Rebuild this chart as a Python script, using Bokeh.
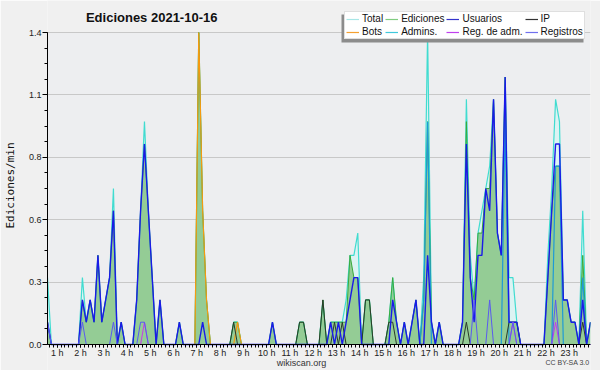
import math
from bokeh.plotting import figure
from bokeh.models import (Range1d, FixedTicker, Legend, LegendItem, Label,
                          CustomJSTickFormatter, BoxAnnotation)
from bokeh.embed import file_html
from bokeh.resources import INLINE

title_text = "Ediciones  2021-10-16"
y_label = "Ediciones/min"
hour_ticks = list(range(1, 24))
y_ticks = [0.0, 0.28, 0.56, 0.84, 1.12, 1.4]
y_max = 1.4

# 10-minute bins, first bin 00:30 (bin index 3), last bin 23:50
first_bin = 3
times = [(first_bin + k + 0.5) / 6 for k in range(141)]

total = [0.3, 0, 0,
         0, 0, 0, 0, 0, 0,
         0.3, 0.1, 0.2, 0.1, 0.4, 0.1,
         0.2, 0.3, 0.7, 0, 0.1, 0,
         0, 0, 0.2, 0.6, 1.0, 0.6,
         0.3, 0, 0.2, 0, 0, 0,
         0, 0.1, 0, 0, 0, 0,
         1.4, 0.6, 0.2, 0, 0, 0,
         0, 0, 0, 0.1, 0.1, 0,
         0, 0, 0, 0, 0, 0,
         0, 0.1, 0, 0, 0, 0,
         0, 0, 0.1, 0.1, 0, 0,
         0, 0, 0.2, 0, 0.1, 0.1,
         0.1, 0.1, 0.2, 0.4, 0.4, 0.5,
         0, 0.2, 0.2, 0, 0, 0,
         0, 0.1, 0.3, 0.1, 0, 0.1,
         0, 0.1, 0.2, 0, 0.3, 1.4,
         0.1, 0, 0.1, 0, 0, 0,
         0, 0, 0.1, 1.1, 0.4, 0.2,
         0.5, 0.6, 0.7, 0.8, 1.1, 0.5,
         0.4, 1.2, 0.3, 0.3, 0.1, 0,
         0, 0, 0, 0, 0, 0,
         0.4, 0.7, 1.1, 1.0, 0.2, 0.2,
         0.1, 0.1, 0, 0.6, 0, 0.1]

edits = [0.1, 0, 0,
         0, 0, 0, 0, 0, 0,
         0.2, 0.1, 0.2, 0.1, 0.4, 0.1,
         0.2, 0.3, 0.6, 0, 0.1, 0,
         0, 0, 0.2, 0.6, 0.9, 0.6,
         0.3, 0, 0.2, 0, 0, 0,
         0, 0.1, 0, 0, 0, 0,
         1.4, 0.6, 0.2, 0, 0, 0,
         0, 0, 0, 0.1, 0.1, 0,
         0, 0, 0, 0, 0, 0,
         0, 0.1, 0, 0, 0, 0,
         0, 0, 0.1, 0.1, 0, 0,
         0, 0, 0.2, 0, 0.1, 0.1,
         0.1, 0.1, 0.1, 0.4, 0.3, 0.3,
         0, 0.2, 0.2, 0, 0, 0,
         0, 0.1, 0.3, 0.1, 0, 0.1,
         0, 0.1, 0.2, 0, 0.2, 1.0,
         0.1, 0, 0.1, 0, 0, 0,
         0, 0, 0.1, 1.0, 0.3, 0.2,
         0.5, 0.5, 0.7, 0.7, 1.1, 0.5,
         0.4, 1.2, 0.1, 0.1, 0.1, 0,
         0, 0, 0, 0, 0, 0,
         0.3, 0.6, 0.8, 0.8, 0.2, 0.2,
         0.1, 0.1, 0, 0.4, 0, 0.1]

users = [0.1, 0, 0,
         0, 0, 0, 0, 0, 0,
         0.2, 0.1, 0.2, 0.1, 0.4, 0.1,
         0.2, 0.3, 0.6, 0, 0.1, 0,
         0, 0, 0.2, 0.6, 0.9, 0.6,
         0.3, 0, 0.2, 0, 0, 0,
         0, 0.1, 0, 0, 0, 0,
         0, 0.1, 0, 0, 0, 0,
         0, 0, 0, 0, 0, 0,
         0, 0, 0, 0, 0, 0,
         0, 0.1, 0, 0, 0, 0,
         0, 0, 0, 0, 0, 0,
         0, 0, 0, 0, 0.1, 0,
         0.1, 0, 0.1, 0.2, 0.3, 0.3,
         0, 0, 0, 0, 0, 0,
         0, 0, 0.2, 0.1, 0, 0.1,
         0, 0.1, 0.2, 0, 0, 0.4,
         0.1, 0, 0.1, 0, 0, 0,
         0, 0, 0.1, 0.9, 0.3, 0.1,
         0.4, 0.4, 0.7, 0.6, 1.1, 0.5,
         0.4, 1.2, 0.1, 0.1, 0.1, 0,
         0, 0, 0, 0, 0, 0,
         0.3, 0.6, 0.9, 0.9, 0.2, 0.2,
         0.1, 0.1, 0, 0.2, 0, 0.1]

ip = [0, 0, 0,
      0, 0, 0, 0, 0, 0,
      0, 0, 0, 0, 0, 0,
      0, 0, 0, 0, 0, 0,
      0, 0, 0, 0, 0, 0,
      0, 0, 0, 0, 0, 0,
      0, 0, 0, 0, 0, 0,
      0, 0, 0, 0, 0, 0,
      0, 0, 0, 0.1, 0, 0,
      0, 0, 0, 0, 0, 0,
      0, 0, 0, 0, 0, 0,
      0, 0, 0.1, 0.1, 0, 0,
      0, 0, 0.2, 0, 0, 0.1,
      0, 0.1, 0, 0, 0, 0,
      0, 0.2, 0.2, 0, 0, 0,
      0, 0.1, 0.1, 0, 0, 0,
      0, 0, 0, 0, 0, 0,
      0, 0, 0, 0, 0, 0,
      0, 0, 0, 0.1, 0, 0,
      0, 0, 0, 0, 0, 0,
      0, 0, 0.1, 0.1, 0.1, 0,
      0, 0, 0, 0, 0, 0,
      0, 0, 0, 0, 0, 0,
      0, 0, 0, 0.1, 0, 0]

bots = [0, 0, 0,
        0, 0, 0, 0, 0, 0,
        0, 0, 0, 0, 0, 0,
        0, 0, 0, 0, 0, 0,
        0, 0, 0, 0, 0, 0,
        0, 0, 0, 0, 0, 0,
        0, 0, 0, 0, 0, 0,
        1.4, 0.6, 0.2, 0, 0, 0,
        0, 0, 0, 0, 0.1, 0,
        0, 0, 0, 0, 0, 0,
        0, 0, 0, 0, 0, 0,
        0, 0, 0, 0, 0, 0,
        0, 0, 0, 0, 0, 0,
        0, 0, 0, 0, 0, 0,
        0, 0, 0, 0, 0, 0,
        0, 0, 0, 0, 0, 0,
        0, 0, 0, 0, 0, 0,
        0, 0, 0, 0, 0, 0,
        0, 0, 0, 0, 0, 0,
        0, 0, 0, 0, 0, 0,
        0, 0, 0, 0, 0, 0,
        0, 0, 0, 0, 0, 0,
        0, 0, 0, 0, 0, 0,
        0, 0, 0, 0, 0, 0]

admins = [0, 0, 0,
          0, 0, 0, 0, 0, 0,
          0, 0, 0, 0, 0, 0,
          0, 0, 0, 0, 0, 0,
          0, 0, 0, 0, 0, 0,
          0, 0, 0, 0, 0, 0,
          0, 0, 0, 0, 0, 0,
          0, 0, 0, 0, 0, 0,
          0, 0, 0, 0, 0, 0,
          0, 0, 0, 0, 0, 0,
          0, 0, 0, 0, 0, 0,
          0, 0, 0, 0, 0, 0,
          0, 0, 0, 0, 0, 0,
          0, 0, 0, 0, 0, 0,
          0, 0, 0, 0, 0, 0,
          0, 0, 0, 0, 0, 0,
          0, 0, 0, 0, 0.2, 1.0,
          0, 0, 0, 0, 0, 0,
          0, 0, 0, 0, 0, 0,
          0, 0, 0, 0, 0, 0,
          0, 1.0, 0, 0, 0, 0,
          0, 0, 0, 0, 0, 0,
          0, 0, 0.8, 0.8, 0, 0,
          0, 0, 0, 0.3, 0, 0]

reg_adm = [0, 0, 0,
           0, 0, 0, 0, 0, 0,
           0, 0, 0, 0, 0, 0,
           0, 0, 0, 0, 0, 0,
           0, 0, 0, 0, 0.1, 0,
           0, 0, 0, 0, 0, 0,
           0, 0, 0, 0, 0, 0,
           0, 0, 0, 0, 0, 0,
           0, 0, 0, 0, 0, 0,
           0, 0, 0, 0, 0, 0,
           0, 0, 0, 0, 0, 0,
           0, 0, 0, 0, 0, 0,
           0, 0, 0, 0, 0, 0,
           0, 0, 0, 0, 0, 0,
           0, 0, 0, 0, 0, 0,
           0, 0, 0, 0, 0, 0,
           0, 0, 0, 0, 0, 0,
           0, 0, 0, 0, 0, 0,
           0, 0, 0, 0, 0, 0,
           0, 0, 0, 0, 0, 0,
           0, 0, 0, 0.1, 0, 0,
           0, 0, 0, 0, 0, 0,
           0, 0, 0.1, 0, 0, 0,
           0, 0, 0, 0, 0, 0]

logs = [0.1, 0, 0,
        0, 0, 0, 0, 0, 0,
        0.1, 0, 0, 0, 0, 0,
        0, 0, 0.1, 0, 0, 0,
        0, 0, 0, 0.1, 0.1, 0,
        0, 0, 0, 0, 0, 0,
        0, 0, 0, 0, 0, 0,
        0, 0, 0, 0, 0, 0,
        0, 0, 0, 0, 0, 0,
        0, 0, 0, 0, 0, 0,
        0, 0, 0, 0, 0, 0,
        0, 0, 0, 0, 0, 0,
        0, 0, 0, 0, 0, 0,
        0, 0, 0, 0, 0, 0,
        0, 0, 0, 0, 0, 0,
        0, 0, 0, 0, 0, 0,
        0, 0, 0, 0, 0, 0,
        0, 0, 0, 0, 0, 0,
        0, 0, 0, 0, 0, 0.2,
        0, 0, 0, 0.2, 0, 0,
        0, 0, 0, 0.1, 0, 0,
        0, 0, 0, 0, 0, 0,
        0, 0, 0.2, 0, 0, 0,
        0, 0, 0, 0, 0, 0]

legend_names = ["Total", "Ediciones", "Usuarios", "IP",
                "Bots", "Admins.", "Reg. de adm.", "Registros"]
legend_colors = ["#a8e6e6", "#80cc80", "#3333cc", "#333333",
                 "#f5a030", "#40c8dc", "#c040ee", "#7070ee"]
legend_series = [total, edits, users, ip, bots, admins, reg_adm, logs]

# layout (pixels): frame spans the whole height; zero line at 26 px from the
# bottom, top value line 32 px from the top
W, H = 600, 370
LEFT, RIGHT = 47, 10
ZERO_FROM_BOTTOM, TOP_FROM_TOP = 26, 32
px_per_unit = (H - ZERO_FROM_BOTTOM - TOP_FROM_TOP) / y_max
y_start = -ZERO_FROM_BOTTOM / px_per_unit
y_end = y_max + TOP_FROM_TOP / px_per_unit

p = figure(width=W, height=H, output_backend="svg", toolbar_location=None,
           x_range=Range1d(times[0], times[-1]),
           y_range=Range1d(y_start, y_end),
           min_border_left=LEFT, min_border_right=RIGHT, min_border_top=0,
           min_border_bottom=0)
p.title = None
p.background_fill_color = "#f0f0f0"
p.border_fill_color = "#f0f0f0"
p.outline_line_color = None

# plot-area background
p.add_layout(BoxAnnotation(left=times[0], right=times[-1], bottom=0, top=y_max,
                           fill_color="#edeef0", fill_alpha=1,
                           line_color=None, level="image"))

# areas
p.varea(x=times, y1=0, y2=total, fill_color="#dcf3f3")
p.varea(x=times, y1=0, y2=edits, fill_color="#8fc98f", fill_alpha=0.95)
# lines
p.line(times, total, color="#40dcd0", line_width=1.2)
p.line(times, edits, color="#3aaa3a", line_width=1)
p.line(times, bots, color="#f59a10", line_width=1.2)
p.line(times, admins, color="#1e9ad6", line_width=1.2)
p.line(times, ip, color="#2a3a2a", line_width=1)
p.line(times, users, color="#1a1ae8", line_width=1.4)
p.line(times, reg_adm, color="#cc33ee", line_width=1)
p.line(times, logs, color="#5a5af0", line_width=1)

# axes
xa = p.xaxis[0]
xa.fixed_location = 0
xa.bounds = (times[0], times[-1])
xa.ticker = FixedTicker(ticks=hour_ticks, minor_ticks=[k / 6 for k in range(145)])
xa.formatter = CustomJSTickFormatter(code='return tick + " h"')
xa.major_tick_out = 3
xa.major_tick_in = 0
xa.minor_tick_out = 3
xa.minor_tick_in = 0
xa.major_label_standoff = 0
xa.major_label_text_font = "Liberation Sans"
xa.major_label_text_font_size = "9px"
xa.major_label_text_color = "#222222"
xa.axis_line_color = "black"
xa.major_tick_line_color = "black"
xa.minor_tick_line_color = "black"

ya = p.yaxis[0]
ya.bounds = (0, y_max)
ya.ticker = FixedTicker(ticks=y_ticks, minor_ticks=[k * 0.07 for k in range(21)])
ya.formatter = CustomJSTickFormatter(code="return tick.toFixed(1)")
ya.major_tick_out = 5
ya.major_tick_in = 0
ya.minor_tick_out = 3
ya.minor_tick_in = 0
ya.major_label_standoff = 1
ya.major_label_text_font = "Liberation Sans"
ya.major_label_text_font_size = "9px"
ya.major_label_text_color = "#222222"
ya.axis_line_color = "black"
ya.axis_label = y_label
ya.axis_label_text_font = "DejaVu Sans Mono"
ya.axis_label_text_font_size = "11px"
ya.axis_label_text_font_style = "normal"
ya.axis_label_text_color = "#111111"
ya.axis_label_standoff = 9

p.xgrid.grid_line_color = None
p.ygrid.grid_line_color = "#c8c8c8"
p.ygrid.grid_line_width = 1

# texts (screen units are measured from the frame's bottom-left corner)
p.add_layout(Label(x=106, y=353, x_units="screen", y_units="screen",
                   text=title_text, text_font="Liberation Sans",
                   text_font_style="bold", text_font_size="13px",
                   text_align="center", text_baseline="middle",
                   text_color="#111111"))
p.add_layout(Label(x=254, y=8, x_units="screen", y_units="screen",
                   text="wikiscan.org", text_font="Liberation Sans",
                   text_font_size="9px", text_align="center",
                   text_baseline="middle", text_color="#333333"))
p.add_layout(Label(x=542, y=8, x_units="screen", y_units="screen",
                   text="CC BY-SA 3.0", text_font="Liberation Sans",
                   text_font_size="7px", text_align="right",
                   text_baseline="middle", text_color="#444444"))

# legend shadow (offset down-left) and legend
p.add_layout(BoxAnnotation(left=294, right=536, bottom=328, top=356,
                           left_units="screen", right_units="screen",
                           bottom_units="screen", top_units="screen",
                           fill_color="#8c8c8c", fill_alpha=1,
                           line_color=None))
items = []
for name, col, series in zip(legend_names, legend_colors, legend_series):
    r = p.line(times, series, color=col, line_width=1.2, visible=False)
    items.append(LegendItem(label=name, renderers=[r]))
leg = Legend(items=items, location=(297, 331), orientation="horizontal",
             ncols=4, label_text_font="Liberation Sans",
             label_text_font_size="10px", label_text_color="#111111",
             glyph_width=13, glyph_height=10, label_height=10,
             label_standoff=3, spacing=2, padding=1, margin=0,
             background_fill_color="white", background_fill_alpha=1,
             border_line_color="#c0c0c0", inactive_fill_alpha=0,
             click_policy="none")
p.add_layout(leg)

open("out.html", "w").write(file_html(p, INLINE))
